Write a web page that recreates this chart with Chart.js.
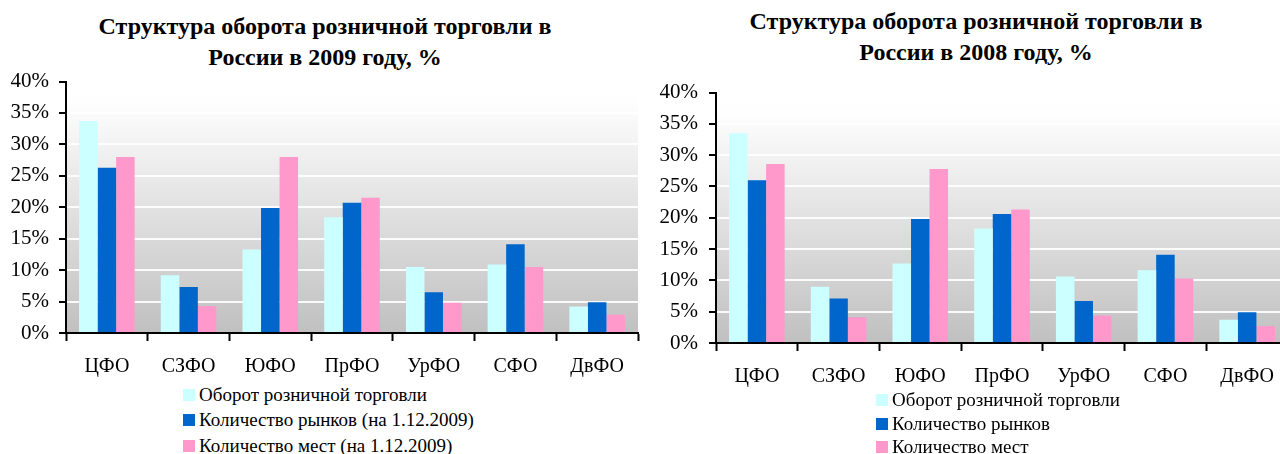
<!DOCTYPE html>
<html>
<head>
<meta charset="utf-8">
<script src="https://cdn.jsdelivr.net/npm/chart.js@4.4.1/dist/chart.umd.min.js"></script>
<style>
  body { margin: 0; width: 1280px; height: 454px; overflow: hidden; background: #fff; position: relative; font-family: "Liberation Serif", "Times New Roman", serif; }
  .title { position: absolute; width: 640px; text-align: center; font-weight: bold; font-size: 24px; line-height: 31px; color: #000; }
  canvas { position: absolute; }
  .legend { position: absolute; font-size: 19px; color: #000; }
  .legend .item { position: absolute; left: 0; white-space: nowrap; display: flex; align-items: center; height: 22px; }
  .legend .box { width: 12px; height: 12px; margin-right: 4px; }
</style>
</head>
<body>
<div class="title" style="left:5px; top:11px;">Структура оборота розничной торговли в<br>России в 2009 году, %</div>
<div class="title" style="left:656px; top:6px;">Структура оборота розничной торговли в<br>России в 2008 году, %</div>

<canvas id="chart2009" width="640" height="319" style="left:0; top:61px; width:640px; height:319px;"></canvas>
<canvas id="chart2008" width="660" height="330" style="left:640px; top:71px; width:660px; height:330px;"></canvas>

<div class="legend" id="legend2009" style="left:183px; top:0;"></div>
<div class="legend" id="legend2008" style="left:876px; top:0;"></div>

<script>
// категории и значения (в %)
const regions = ['ЦФО', 'СЗФО', 'ЮФО', 'ПрФО', 'УрФО', 'СФО', 'ДвФО'];
const yTicks = [0, 5, 10, 15, 20, 25, 30, 35, 40];

const turnover2009 = [33.7, 9.2, 13.3, 18.4, 10.5, 10.9, 4.2];
const markets2009 = [26.3, 7.3, 19.9, 20.7, 6.5, 14.1, 4.9];
const places2009 = [28.0, 4.3, 28.0, 21.5, 4.8, 10.5, 2.9];

const turnover2008 = [33.5, 9.0, 12.7, 18.3, 10.6, 11.6, 3.7];
const markets2008 = [26.0, 7.1, 19.8, 20.6, 6.7, 14.1, 4.9];
const places2008 = [28.6, 4.1, 27.8, 21.3, 4.4, 10.3, 2.7];

const labels2009 = ['Оборот розничной торговли', 'Количество рынков (на 1.12.2009)', 'Количество мест (на 1.12.2009)'];
const labels2008 = ['Оборот розничной торговли', 'Количество рынков', 'Количество мест'];
const colors = ['#CCFFFF', '#0066CC', '#FF99CC'];

const serif = '"Liberation Serif", "Times New Roman", serif';

// серый градиент под столбцами
const plotBackground = {
    id: 'plotBackground',
    beforeDraw(chart) {
        const { ctx, chartArea } = chart;
        const g = ctx.createLinearGradient(0, chartArea.top, 0, chartArea.bottom);
        g.addColorStop(0, '#ffffff');
        g.addColorStop(0.08, '#fefefe');
        g.addColorStop(1, '#c0c0c0');
        ctx.save();
        ctx.fillStyle = g;
        ctx.fillRect(chartArea.left, chartArea.top, chartArea.right - chartArea.left, chartArea.bottom - chartArea.top);
        ctx.restore();
    }
};

function makeChart(id, series, names, yWidth, xHeight, padRight, labelPad) {
    const ctx = document.getElementById(id).getContext('2d');
    return new Chart(ctx, {
        type: 'bar',
        data: {
            labels: regions,
            datasets: series.map((values, i) => ({
                label: names[i],
                data: values,
                backgroundColor: colors[i],
                borderWidth: 0,
                categoryPercentage: 0.68,
                barPercentage: 1.0
            }))
        },
        options: {
            responsive: false,
            animation: false,
            layout: { padding: { top: 0, right: padRight, left: 0, bottom: 0 } },
            plugins: {
                legend: { display: false },
                title: { display: false },
                tooltip: { enabled: false }
            },
            scales: {
                x: {
                    afterFit(scale) { scale.height = xHeight; },
                    grid: {
                        offset: true,
                        drawOnChartArea: false,
                        drawTicks: true,
                        tickLength: 8,
                        tickColor: '#000',
                        tickWidth: 2
                    },
                    border: { display: true, color: '#000', width: 2 },
                    ticks: {
                        color: '#000',
                        font: { family: serif, size: 20 },
                        padding: 14,
                        maxRotation: 0,
                        autoSkip: false
                    }
                },
                y: {
                    min: 0,
                    max: 40,
                    afterFit(scale) { scale.width = yWidth; },
                    afterBuildTicks(scale) { scale.ticks = yTicks.map(v => ({ value: v })); },
                    grid: {
                        color: c => (c.tick && c.tick.value === 0) ? 'rgba(0,0,0,0)' : 'rgba(255,255,255,0.9)',
                        lineWidth: 2,
                        tickLength: 7,
                        tickColor: '#000',
                        tickWidth: 2
                    },
                    border: { display: true, color: '#000', width: 2 },
                    ticks: {
                        color: '#000',
                        font: { family: serif, size: 21, lineHeight: 1 },
                        padding: labelPad,
                        callback: v => v + '%'
                    }
                }
            }
        },
        plugins: [plotBackground]
    });
}

makeChart('chart2009', [turnover2009, markets2009, places2009], labels2009, 66, 47, 2, 10);
makeChart('chart2008', [turnover2008, markets2008, places2008], labels2008, 76, 58, 12, 11);

function makeLegend(id, names, rows) {
    const el = document.getElementById(id);
    names.forEach((name, i) => {
        const item = document.createElement('div');
        item.className = 'item';
        item.style.top = (rows[i] - 11) + 'px';
        item.innerHTML = '<span class="box" style="background:' + colors[i] + '"></span><span>' + name + '</span>';
        el.appendChild(item);
    });
}

makeLegend('legend2009', labels2009, [395, 420, 446]);
makeLegend('legend2008', labels2008, [400, 424, 447]);
</script>
</body>
</html>
